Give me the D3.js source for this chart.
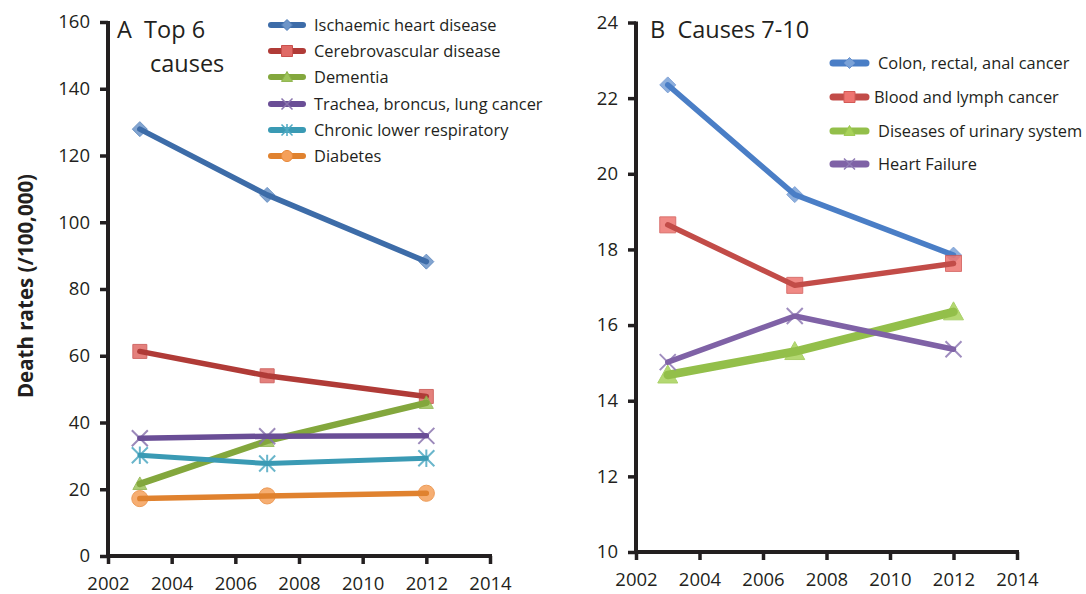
<!DOCTYPE html>
<html>
<head>
<meta charset="utf-8">
<script src="https://cdn.jsdelivr.net/npm/d3@7"></script>
<style>
  html, body { margin: 0; padding: 0; background: #fff; }
  svg { display: block; font-family: "Open Sans", "Noto Sans", sans-serif; }
</style>
</head>
<body>
<svg id="chart" width="1086" height="594"></svg>
<script>
// Survey years
const years = [2003, 2007, 2012];

// Panel A: top 6 causes of death (rate per 100,000)
const namesA = ["Ischaemic heart disease", "Cerebrovascular disease", "Dementia",
                "Trachea, broncus, lung cancer", "Chronic lower respiratory", "Diabetes"];
const ischaemic   = [127.9, 108.2, 88.2];
const cerebro     = [61.3, 54.0, 47.8];
const dementia    = [21.6, 34.5, 45.9];
const trachea     = [35.3, 35.9, 36.0];
const chronicResp = [30.2, 27.7, 29.3];
const diabetes    = [17.2, 18.0, 18.8];
const valuesA = [ischaemic, cerebro, dementia, trachea, chronicResp, diabetes];

// Panel B: causes 7-10
const namesB = ["Colon, rectal, anal cancer", "Blood and lymph cancer",
                "Diseases of urinary system", "Heart Failure"];
const colon   = [22.35, 19.45, 17.85];
const blood   = [18.65, 17.05, 17.63];
const urinary = [14.68, 15.30, 16.35];
const heartF  = [15.02, 16.24, 15.36];
const valuesB = [colon, blood, urinary, heartF];

// Axis ticks
const xTicks  = [2002, 2004, 2006, 2008, 2010, 2012, 2014];
const yTicksA = [0, 20, 40, 60, 80, 100, 120, 140, 160];
const yTicksB = [10, 12, 14, 16, 18, 20, 22, 24];

const svg = d3.select("#chart");

// soft edge for the point markers
const defs = svg.append("defs");
defs.append("filter").attr("id", "soft")
  .attr("x", "-50%").attr("y", "-50%").attr("width", "200%").attr("height", "200%")
  .append("feGaussianBlur").attr("stdDeviation", 0.7);

function markerPath(type, s) {
  const h = s / 2;
  switch (type) {
    case "diamond":  return `M0,${-h}L${h},0L0,${h}L${-h},0Z`;
    case "square":   return `M${-h},${-h}H${h}V${h}H${-h}Z`;
    case "triangle": return `M0,${-h}L${h},${h * 0.8}L${-h},${h * 0.8}Z`;
    case "x":        return `M${-h},${-h}L${h},${h}M${h},${-h}L${-h},${h}`;
    case "star":     return `M${-h},${-h}L${h},${h}M${h},${-h}L${-h},${h}M0,${-h * 1.1}V${h * 1.1}`;
    case "circle":   return d3.symbol(d3.symbolCircle, s * s * 0.8)();
  }
}

const INK = "#231f20";

function drawPanel(cfg) {
  const g = svg.append("g");
  const x = d3.scaleLinear().domain([2002, 2014]).range([cfg.left, cfg.right]);
  const y = d3.scaleLinear().domain(cfg.yDomain).range([cfg.bottom, cfg.top]);

  // y axis
  const yAxis = g.append("g").attr("transform", `translate(${cfg.left},0)`)
    .call(d3.axisLeft(y).tickValues(cfg.yTicks).tickSize(8).tickPadding(10).tickSizeOuter(0));
  // x axis
  const xAxis = g.append("g").attr("transform", `translate(0,${cfg.bottom})`)
    .call(d3.axisBottom(x).tickValues(xTicks).tickFormat(d3.format("d")).tickSize(8).tickPadding(13).tickSizeOuter(0));
  [yAxis, xAxis].forEach(a => {
    a.select(".domain").attr("stroke", INK).attr("stroke-width", 4);
    a.selectAll(".tick line").attr("stroke", INK).attr("stroke-width", 3.5);
    a.selectAll(".tick text").attr("fill", INK).attr("font-size", 18.5)
      .attr("font-family", "'Open Sans', 'Noto Sans', sans-serif");
  });
  xAxis.select(".domain").attr("d", `M${cfg.left - 2},0H${cfg.right + 2}`);
  yAxis.select(".domain").attr("d", `M0,${cfg.top - 1}V${cfg.bottom + 2}`);

  const line = d3.line().x((d, i) => x(years[i])).y(d => y(d));

  cfg.series.forEach((vals, k) => {
    const c = cfg.colors[k], m = cfg.markers[k];
    const sg = g.append("g");
    // markers
    sg.selectAll("path.mk").data(vals).join("path").attr("class", "mk")
      .attr("transform", (d, i) => `translate(${x(years[i])},${y(d)})`)
      .attr("d", markerPath(m, cfg.markerSize[k]))
      .attr("fill", (m === "x" || m === "star") ? "none" : cfg.markerFill[k])
      .attr("stroke", cfg.markerStroke[k]).attr("stroke-width", (m === "x" || m === "star") ? 2 : 1)
      .attr("opacity", 0.85)
      .attr("filter", "url(#soft)");
    // connecting line
    sg.append("path").datum(vals).attr("d", line)
      .attr("fill", "none").attr("stroke", c).attr("stroke-width", cfg.widths[k])
      .attr("stroke-linejoin", "round").attr("stroke-linecap", "round");
  });

  // legend
  const lg = g.append("g");
  cfg.names.forEach((n, k) => {
    const ly = cfg.legendY[k];
    const m = cfg.markers[k];
    lg.append("line").attr("x1", cfg.legX).attr("x2", cfg.legX + cfg.legW)
      .attr("y1", ly).attr("y2", ly).attr("stroke", cfg.colors[k])
      .attr("stroke-width", cfg.legLineW).attr("stroke-linecap", "round");
    lg.append("path").attr("transform", `translate(${cfg.legX + cfg.legW / 2},${ly})`)
      .attr("d", markerPath(m, 11))
      .attr("fill", (m === "x" || m === "star") ? "none" : cfg.markerFill[k])
      .attr("stroke", cfg.markerStroke[k]).attr("stroke-width", (m === "x" || m === "star") ? 1.5 : 1);
    lg.append("text").attr("x", cfg.legTextX[k]).attr("y", ly).attr("dy", "0.35em")
      .attr("font-size", 16.4).attr("fill", INK).text(n);
  });

  // panel title
  cfg.title.forEach(t => {
    g.append("text").attr("x", t.x).attr("y", t.y).attr("font-size", 23.5)
      .attr("fill", INK).attr("xml:space", "preserve").text(t.text);
  });
}

drawPanel({
  left: 108, right: 490, top: 22, bottom: 556,
  yDomain: [0, 160], yTicks: yTicksA,
  series: valuesA, names: namesA,
  colors: ["#3d6ca8", "#b03b37", "#83a73d", "#6a4e96", "#3a9ab4", "#e0822f"],
  markerFill: ["#6d95c8", "#e06a66", "#9ec45a", "#9a84bc", "#62b8cf", "#f5a05a"],
  markerStroke: ["#4f7db8", "#c9504d", "#8cb24a", "#8a74ae", "#4fa9c2", "#e88a3c"],
  markers: ["diamond", "square", "triangle", "x", "star", "circle"],
  markerSize: [15, 14, 14, 16, 16, 16],
  widths: [5.5, 5.5, 6.5, 5.5, 5, 5.5],
  legendY: [25, 51, 77, 104, 130, 156],
  legX: 271, legW: 32, legLineW: 6, legTextX: [314, 314, 314, 314, 314, 314],
  title: [{x: 117, y: 38, text: "A  Top 6"}, {x: 150, y: 72, text: "causes"}]
});

drawPanel({
  left: 636, right: 1017, top: 22.5, bottom: 552,
  yDomain: [10, 24], yTicks: yTicksB,
  series: valuesB, names: namesB,
  colors: ["#4a7ec6", "#c24c48", "#93bf4a", "#7f62a6"],
  markerFill: ["#7aa2d8", "#ee7470", "#a8d25a", "#a08cc0"],
  markerStroke: ["#6a92ce", "#d35a56", "#9bc84f", "#8f7ab4"],
  markers: ["diamond", "square", "triangle", "x"],
  markerSize: [16, 16, 20, 16],
  widths: [5.5, 5.5, 8.5, 5.5],
  legendY: [63, 97, 131, 164],
  legX: 833, legW: 33, legLineW: 7, legTextX: [878, 874, 878, 878],
  title: [{x: 650, y: 38, text: "B  Causes 7-10"}]
});

// shared y-axis title
svg.append("text")
  .attr("transform", "translate(33,286) rotate(-90)")
  .attr("text-anchor", "middle").attr("font-size", 20.5).attr("font-weight", "bold")
  .attr("fill", INK).text("Death rates (/100,000)");
</script>
</body>
</html>
